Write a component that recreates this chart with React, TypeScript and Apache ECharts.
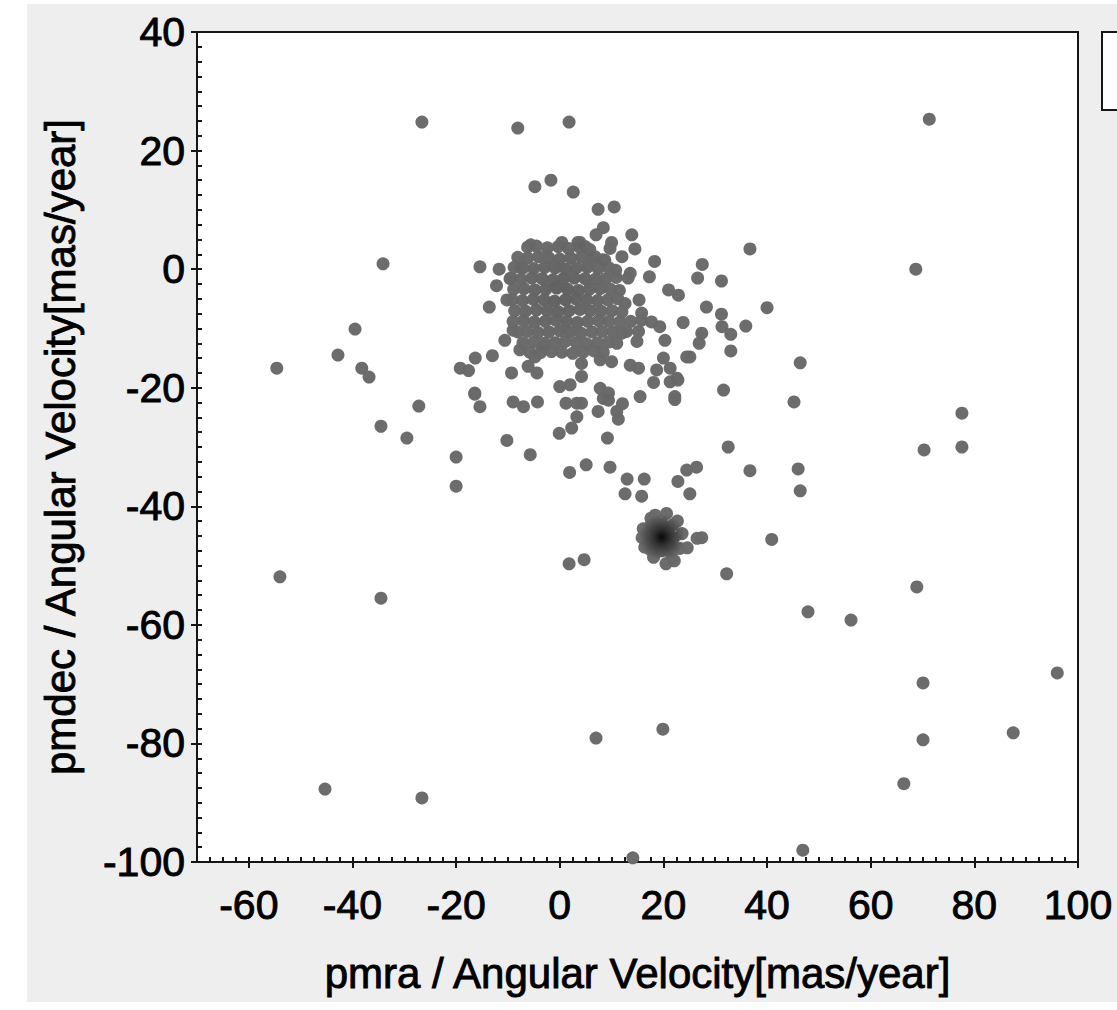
import React, { useEffect, useRef } from "react";
import * as echarts from "echarts";

// x: pmra, y: pmdec (mas/year)
const xTitle = "pmra / Angular Velocity[mas/year]";
const yTitle = "pmdec / Angular Velocity[mas/year]";

const outliers: number[][] = [
  [-26.6, 24.8], [-8.1, 23.8], [1.8, 24.8], [71.3, 25.3], [-1.7, 15.0], [-4.8, 13.9], [2.6, 13.0],
  [7.4, 10.1], [10.5, 10.5], [-34.1, 0.9], [68.7, 0.0], [36.7, 3.4], [-39.5, -10.1], [-42.8, -14.5],
  [-54.6, -16.7], [-38.2, -16.7], [-36.8, -18.2], [40.0, -6.5], [35.9, -9.6], [46.4, -15.8],
  [45.2, -22.4], [77.6, -24.3], [77.6, -30.0], [70.3, -30.5], [-34.5, -26.5], [-27.2, -23.1],
  [-29.5, -28.5], [-20.0, -31.7], [-20.0, -36.6], [46.0, -33.7], [46.4, -37.4], [36.7, -34.0],
  [32.5, -30.0], [31.6, -20.4], [-54.0, -51.9], [-34.5, -55.5], [40.9, -45.6], [32.2, -51.4],
  [47.9, -57.8], [56.2, -59.2], [68.9, -53.6], [96.0, -68.1], [70.1, -69.8], [19.9, -77.6],
  [7.0, -79.1], [70.1, -79.4], [87.5, -78.2], [66.4, -86.8], [-45.3, -87.7], [-26.6, -89.2],
  [46.9, -98.0], [14.1, -99.3], [1.8, -49.7], [4.7, -49.0],
];

const cloudPoints: number[][] = [
  [-15.4, 0.4], [-11.7, 0.0], [-5.6, 4.1], [0.4, 4.5], [3.5, 4.5], [-12.2, -2.8], [-9.4, -1.5],
  [-7.7, 0.4], [-13.6, -6.4], [-10.2, -5.2], [-9.0, -10.3], [-10.6, -12.0], [-7.7, -13.6],
  [-16.3, -15.0], [-13.0, -14.6], [-19.2, -16.7], [-17.6, -17.1], [-9.3, -17.5], [-16.4, -20.9],
  [-6.1, -16.4], [-4.4, -17.5], [-4.8, -14.8], [-3.2, -13.1], [0.0, -19.8], [2.0, -19.5],
  [8.4, 7.0], [7.0, 5.8], [13.9, 5.8], [14.5, 3.4], [10.0, 4.5], [9.7, 3.5], [3.9, 4.5], [4.9, 3.8],
  [18.3, 1.3], [27.5, 0.8], [26.6, -1.5], [31.2, -2.0], [17.3, -1.3], [13.6, -0.7], [13.2, -1.5],
  [12.0, 2.1], [6.8, 2.1], [8.7, 1.5], [21.0, -3.5], [22.9, -4.4], [15.3, -5.2], [28.3, -6.4],
  [31.2, -7.6], [31.3, -9.7], [33.0, -11.0], [33.0, -13.8], [23.8, -9.0], [27.4, -10.8],
  [26.9, -12.5], [24.5, -14.8], [25.1, -14.8], [20.0, -15.0], [18.7, -17.0], [21.3, -16.7],
  [22.6, -18.4], [18.1, -19.1], [15.8, -7.4], [19.3, -9.7], [20.3, -12.0], [15.2, -10.5],
  [14.9, -12.2], [12.9, -10.5], [12.6, -5.8], [7.8, -15.3], [10.0, -15.6], [13.6, -16.2],
  [15.2, -16.7], [4.2, -15.9], [4.2, -18.1], [7.8, -20.1], [9.4, -20.9], [15.5, -21.5],
  [22.2, -21.5], [-16.4, -21.1], [-15.4, -23.2], [-9.0, -22.4], [-7.0, -23.2], [-4.3, -22.4],
  [-10.2, -28.9], [-5.7, -31.3], [1.9, -34.3], [-0.1, -27.7], [2.3, -26.8], [3.3, -24.9],
  [1.2, -22.6], [3.3, -22.6], [4.2, -22.6], [8.4, -21.8], [9.4, -22.1], [7.4, -24.0], [11.0, -24.0],
  [11.3, -25.3], [12.1, -22.7], [21.3, -19.0], [22.8, -18.7], [22.2, -22.0], [9.2, -28.5],
  [5.1, -33.0], [9.7, -33.4], [13.0, -35.4], [16.3, -35.4], [12.6, -37.9], [15.8, -38.3],
  [22.8, -35.8], [25.1, -37.9], [24.5, -33.9], [26.4, -33.4],
];

// dense core of the main cloud (overlapping points)
const cloudCore: number[][] = [
  [-6.2, 3.7], [-4.5, 3.9], [-2.4, 3.6], [-0.3, 3.8], [1.7, 3.5], [3.8, 3.7], [5.8, 3.3],
  [-8.1, 2.0], [-6.2, 1.9], [-4.1, 2.1], [-2.1, 1.9], [0.0, 1.7], [2.1, 1.9], [4.2, 2.0], [6.3, 1.8], [8.3, 1.6],
  [-8.8, 0.3], [-7.1, 0.2], [-5.0, 0.1], [-2.9, 0.3], [-0.9, 0.2], [1.2, 0.0], [3.2, 0.2], [5.3, 0.3], [7.4, 0.1], [9.5, 0.2], [10.8, -0.2],
  [-9.6, -1.6], [-7.5, -1.7], [-5.4, -1.5], [-3.4, -1.6], [-1.3, -1.8], [0.7, -1.6], [2.8, -1.5], [4.9, -1.6], [6.9, -1.7], [8.9, -1.6], [10.9, -1.4],
  [-8.9, -3.4], [-6.9, -3.3], [-4.8, -3.5], [-2.7, -3.4], [-0.6, -3.2], [1.5, -3.4], [3.6, -3.6], [5.7, -3.4], [7.8, -3.3], [9.8, -3.4], [11.5, -3.6],
  [-9.2, -5.2], [-7.2, -5.3], [-5.1, -5.1], [-3.0, -5.2], [-1.0, -5.4], [1.1, -5.2], [3.1, -5.0], [5.2, -5.2], [7.3, -5.3], [9.3, -5.2], [11.2, -5.0],
  [-8.7, -7.0], [-6.6, -7.1], [-4.5, -6.9], [-2.4, -7.0], [-0.3, -7.2], [1.8, -7.0], [3.9, -6.8], [5.9, -7.0], [8.0, -7.1], [10.1, -7.0], [12.0, -7.2],
  [-9.0, -8.8], [-7.0, -8.7], [-4.9, -8.9], [-2.8, -8.8], [-0.8, -8.6], [1.3, -8.8], [3.4, -9.0], [5.4, -8.8], [7.5, -8.7], [9.5, -8.8], [11.6, -8.9], [13.7, -8.8], [15.8, -8.6], [17.7, -8.9],
  [-8.1, -10.6], [-6.3, -10.5], [-4.2, -10.7], [-2.1, -10.6], [0.0, -10.4], [2.0, -10.6], [4.1, -10.8], [6.2, -10.6], [8.2, -10.5], [10.3, -10.6], [12.0, -10.8],
  [-7.1, -12.4], [-5.0, -12.3], [-2.9, -12.5], [-0.9, -12.4], [1.1, -12.2], [3.2, -12.4], [5.2, -12.6], [7.3, -12.4], [9.4, -12.3], [11.0, -12.5],
  [-5.8, -14.0], [-3.7, -14.1], [-1.6, -13.9], [0.4, -14.0], [2.5, -14.2], [4.5, -14.0], [6.6, -13.8], [8.4, -14.0],
];

// compact cluster near (20, -45)
const clusterPoints: number[][] = [
  [19.7, -45.2], [18.6, -44.1], [20.9, -44.1], [18.6, -46.4], [20.9, -46.4],
  [19.8, -43.0], [19.7, -47.5], [17.5, -45.2], [22.0, -45.3], [17.6, -43.1],
  [21.9, -43.1], [17.6, -47.4], [21.9, -47.4], [16.1, -43.8], [16.4, -46.9],
  [17.6, -42.0], [20.6, -41.2], [22.7, -42.5], [23.6, -44.6], [23.2, -47.1],
  [21.6, -48.8], [20.5, -49.7], [22.1, -49.2], [18.1, -48.6], [15.9, -45.3],
  [26.5, -45.4], [27.4, -45.3], [24.6, -47.0], [18.4, -41.5],
];

// density peaks: [x, y, peak darkness 0..1]
const densityPeaks: number[][] = [
  [19.7, -45.2, 0.92],
  [0.3, -4.0, 0.1],
];

const FONT = "'Liberation Sans', Arial, sans-serif";
const INK = "#161616";

export default function App() {
  const ref = useRef<HTMLDivElement>(null);

  useEffect(() => {
    if (!ref.current) return;
    const chart = echarts.init(ref.current, undefined, { renderer: "svg" });

    const all: number[][] = [...outliers, ...cloudPoints, ...cloudCore, ...clusterPoints];

    const peakItems = densityPeaks.map((p, i) => ({
      value: [p[0], p[1]],
      symbolSize: i === 0 ? 46 : 110,
      itemStyle: {
        color: new echarts.graphic.RadialGradient(0.5, 0.5, 0.5, [
          { offset: 0, color: `rgba(0,0,0,${p[2]})` },
          { offset: 0.35, color: `rgba(0,0,0,${p[2] * 0.6})` },
          { offset: 1, color: "rgba(0,0,0,0)" },
        ]),
        opacity: 1,
      },
    }));

    const textStyle = {
      fontFamily: FONT,
      color: "#000",
      textBorderColor: "#000",
      textBorderWidth: 0.9,
    };

    chart.setOption({
      animation: false,
      backgroundColor: "transparent",
      grid: {
        left: 197,
        top: 32,
        width: 881,
        height: 830,
        show: true,
        backgroundColor: "#ffffff",
        borderColor: INK,
        borderWidth: 2,
      },
      xAxis: [
        {
          type: "value",
          min: -70,
          max: 100,
          splitNumber: 8,
          minInterval: 20,
          maxInterval: 20,
          position: "bottom",
          axisLine: { show: true, onZero: false, lineStyle: { color: INK, width: 2 } },
          axisTick: { show: true, inside: false, length: 6, lineStyle: { color: INK, width: 2 } },
          axisLabel: { ...textStyle, fontSize: 41, margin: 22, showMinLabel: false },
          splitLine: { show: false },
          name: xTitle,
          nameLocation: "middle",
          nameGap: 90,
          nameTextStyle: { ...textStyle, fontSize: 42 },
        },
        {
          type: "value",
          min: -70,
          max: 100,
          interval: 2.5,
          position: "bottom",
          axisLine: { show: false, onZero: false },
          axisTick: { show: true, inside: true, length: 5, lineStyle: { color: INK, width: 2 } },
          axisLabel: { show: false },
          splitLine: { show: false },
        },
      ],
      yAxis: [
        {
          type: "value",
          min: -100,
          max: 40,
          interval: 20,
          position: "left",
          axisLine: { show: true, onZero: false, lineStyle: { color: INK, width: 2 } },
          axisTick: { show: true, inside: false, length: 6, lineStyle: { color: INK, width: 2 } },
          axisLabel: { ...textStyle, fontSize: 41, margin: 12 },
          splitLine: { show: false },
          name: yTitle,
          nameLocation: "middle",
          nameGap: 116,
          nameTextStyle: { ...textStyle, fontSize: 42 },
        },
        {
          type: "value",
          min: -100,
          max: 40,
          interval: 2.5,
          position: "left",
          axisLine: { show: false, onZero: false },
          axisTick: { show: true, inside: true, length: 5, lineStyle: { color: INK, width: 2 } },
          axisLabel: { show: false },
          splitLine: { show: false },
        },
      ],
      graphic: [
        {
          type: "rect",
          shape: { x: 1102, y: 32, width: 40, height: 78 },
          style: { fill: "#ffffff", stroke: INK, lineWidth: 2 },
        },
      ],
      series: [
        {
          type: "scatter",
          xAxisIndex: 0,
          yAxisIndex: 0,
          data: all,
          symbol: "circle",
          symbolSize: 13,
          itemStyle: { color: "#6f6f6f", opacity: 1 },
          silent: true,
          clip: true,
        },
        {
          type: "scatter",
          xAxisIndex: 0,
          yAxisIndex: 0,
          data: all,
          symbol: "circle",
          symbolSize: 13,
          itemStyle: { color: "#000000", opacity: 0.02 },
          silent: true,
          clip: true,
        },
        {
          type: "scatter",
          xAxisIndex: 0,
          yAxisIndex: 0,
          data: peakItems,
          symbol: "circle",
          silent: true,
          clip: true,
        },
      ],
    });

    return () => chart.dispose();
  }, []);

  return (
    <div style={{ position: "absolute", left: 0, top: 0, width: 1117, height: 1010, background: "#ffffff" }}>
      <div style={{ position: "absolute", left: 27, top: 4, width: 1090, height: 998, background: "#eeeeee" }} />
      <div ref={ref} style={{ position: "absolute", left: 0, top: 0, width: 1117, height: 1010 }} />
    </div>
  );
}
